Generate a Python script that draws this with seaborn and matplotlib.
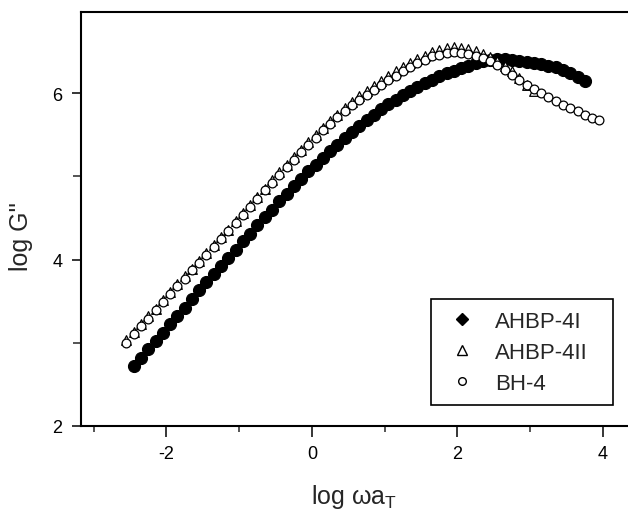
import matplotlib
matplotlib.use("Agg")
import matplotlib.pyplot as plt
import seaborn as sns
import pandas as pd
from matplotlib.ticker import FixedLocator
from matplotlib.lines import Line2D

# ---------------- data ----------------
x_ahbp4i = [-2.45, -2.35, -2.25, -2.15, -2.05, -1.95, -1.85, -1.75, -1.65, -1.55,
            -1.45, -1.35, -1.25, -1.15, -1.05, -0.95, -0.85, -0.75, -0.65, -0.55,
            -0.45, -0.35, -0.25, -0.15, -0.05, 0.05, 0.15, 0.25, 0.35, 0.45,
            0.55, 0.65, 0.75, 0.85, 0.95, 1.05, 1.15, 1.25, 1.35, 1.45,
            1.55, 1.65, 1.75, 1.85, 1.95, 2.05, 2.15, 2.25, 2.35, 2.45,
            2.55, 2.65, 2.75, 2.85, 2.95, 3.05, 3.15, 3.25, 3.35, 3.45,
            3.55, 3.65, 3.75]
y_ahbp4i = [2.72, 2.82, 2.92, 3.02, 3.12, 3.22, 3.32, 3.42, 3.53, 3.63,
            3.73, 3.83, 3.92, 4.02, 4.12, 4.22, 4.31, 4.41, 4.51, 4.60,
            4.70, 4.79, 4.88, 4.97, 5.06, 5.14, 5.22, 5.30, 5.38, 5.46,
            5.53, 5.60, 5.67, 5.74, 5.81, 5.87, 5.92, 5.97, 6.02, 6.07,
            6.12, 6.16, 6.20, 6.24, 6.27, 6.30, 6.33, 6.36, 6.38, 6.40,
            6.41, 6.41, 6.40, 6.39, 6.37, 6.36, 6.35, 6.33, 6.31, 6.28,
            6.24, 6.19, 6.15]

x_ahbp4ii = [-2.55, -2.45, -2.35, -2.25, -2.15, -2.05, -1.95, -1.85, -1.75, -1.65,
             -1.55, -1.45, -1.35, -1.25, -1.15, -1.05, -0.95, -0.85, -0.75, -0.65,
             -0.55, -0.45, -0.35, -0.25, -0.15, -0.05, 0.05, 0.15, 0.25, 0.35,
             0.45, 0.55, 0.65, 0.75, 0.85, 0.95, 1.05, 1.15, 1.25, 1.35,
             1.45, 1.55, 1.65, 1.75, 1.85, 1.95, 2.05, 2.15, 2.25, 2.35,
             2.45, 2.55, 2.65, 2.75, 2.85, 2.95, 3.05]
y_ahbp4ii = [3.03, 3.13, 3.22, 3.32, 3.41, 3.51, 3.61, 3.70, 3.80, 3.89,
             3.98, 4.08, 4.17, 4.27, 4.36, 4.46, 4.56, 4.66, 4.75, 4.85,
             4.95, 5.05, 5.14, 5.23, 5.32, 5.41, 5.50, 5.58, 5.66, 5.74,
             5.82, 5.89, 5.96, 6.03, 6.09, 6.15, 6.21, 6.26, 6.31, 6.36,
             6.41, 6.45, 6.49, 6.52, 6.54, 6.55, 6.54, 6.53, 6.50, 6.47,
             6.43, 6.38, 6.33, 6.26, 6.18, 6.10, 6.02]

x_bh4 = [-2.55, -2.45, -2.35, -2.25, -2.15, -2.05, -1.95, -1.85, -1.75, -1.65,
         -1.55, -1.45, -1.35, -1.25, -1.15, -1.05, -0.95, -0.85, -0.75, -0.65,
         -0.55, -0.45, -0.35, -0.25, -0.15, -0.05, 0.05, 0.15, 0.25, 0.35,
         0.45, 0.55, 0.65, 0.75, 0.85, 0.95, 1.05, 1.15, 1.25, 1.35,
         1.45, 1.55, 1.65, 1.75, 1.85, 1.95, 2.05, 2.15, 2.25, 2.35,
         2.45, 2.55, 2.65, 2.75, 2.85, 2.95, 3.05, 3.15, 3.25, 3.35,
         3.45, 3.55, 3.65, 3.75, 3.85, 3.95]
y_bh4 = [3.00, 3.10, 3.20, 3.29, 3.39, 3.49, 3.58, 3.68, 3.77, 3.87,
         3.96, 4.06, 4.15, 4.25, 4.34, 4.44, 4.54, 4.63, 4.73, 4.83,
         4.92, 5.02, 5.11, 5.20, 5.29, 5.38, 5.46, 5.55, 5.63, 5.71,
         5.78, 5.85, 5.92, 5.98, 6.04, 6.10, 6.16, 6.21, 6.26, 6.31,
         6.36, 6.40, 6.44, 6.46, 6.48, 6.49, 6.48, 6.47, 6.45, 6.42,
         6.39, 6.34, 6.28, 6.22, 6.16, 6.10, 6.05, 6.00, 5.95, 5.90,
         5.86, 5.82, 5.78, 5.74, 5.70, 5.67]

series_names = ["AHBP-4I", "AHBP-4II", "BH-4"]
x_ticks_major = [-2, 0, 2, 4]
x_ticks_minor = [-3, -1, 1, 3]
y_ticks_major = [2, 4, 6]
y_ticks_minor = [3, 5]

# ---------------- style ----------------
sns.set_style("ticks")
plt.rcParams["font.family"] = ["Liberation Sans", "DejaVu Sans"]
plt.rcParams["mathtext.default"] = "regular"
plt.rcParams["axes.unicode_minus"] = False

fig = plt.figure(figsize=(6.28, 5.10), dpi=100)
ax = fig.add_axes([81 / 628, 83 / 510, 547 / 628, 414 / 510])

df_i = pd.DataFrame({"x": x_ahbp4i, "y": y_ahbp4i})
df_ii = pd.DataFrame({"x": x_ahbp4ii, "y": y_ahbp4ii})
df_bh = pd.DataFrame({"x": x_bh4, "y": y_bh4})

sns.scatterplot(data=df_i, x="x", y="y", ax=ax, marker="o", s=75,
                color="black", edgecolor="black", linewidth=0.8, zorder=3)
sns.scatterplot(data=df_ii, x="x", y="y", ax=ax, marker="^", s=48,
                facecolor="white", edgecolor="black", linewidth=0.9, zorder=4)
sns.scatterplot(data=df_bh, x="x", y="y", ax=ax, marker="o", s=40,
                facecolor="white", edgecolor="black", linewidth=0.9, zorder=5)

ax.set_xlim(-3.175, 4.344)
ax.set_ylim(2, 6.973)

ax.xaxis.set_major_locator(FixedLocator(x_ticks_major))
ax.xaxis.set_minor_locator(FixedLocator(x_ticks_minor))
ax.yaxis.set_major_locator(FixedLocator(y_ticks_major))
ax.yaxis.set_minor_locator(FixedLocator(y_ticks_minor))
ax.set_xticklabels([str(v) for v in x_ticks_major])
ax.set_yticklabels([str(v) for v in y_ticks_major])

ax.tick_params(axis="x", which="major", direction="out", length=8, width=1.1,
               pad=6, labelsize=13, colors="black")
ax.tick_params(axis="x", which="minor", direction="out", length=4, width=1.1)
ax.tick_params(axis="y", which="major", direction="out", length=6.5, width=1.1,
               pad=7, labelsize=13, colors="black")
ax.tick_params(axis="y", which="minor", direction="out", length=6, width=1.1)

for side in ["left", "bottom", "top"]:
    ax.spines[side].set_linewidth(1.5)
    ax.spines[side].set_color("black")
ax.spines["right"].set_visible(False)

ax.set_xlabel("log ωa$_T$", fontsize=18)
ax.set_ylabel("log G''", fontsize=18)
ax.xaxis.set_label_coords(0.5, -0.135)
ax.xaxis.label.set_va("top")
ax.yaxis.set_label_coords(-0.088, 0.459)

handles = [
    Line2D([], [], linestyle="none", marker="D", markersize=6,
           markerfacecolor="black", markeredgecolor="black"),
    Line2D([], [], linestyle="none", marker="^", markersize=7,
           markerfacecolor="white", markeredgecolor="black", markeredgewidth=1.0),
    Line2D([], [], linestyle="none", marker="o", markersize=5.5,
           markerfacecolor="white", markeredgecolor="black", markeredgewidth=1.0),
]
leg = ax.legend(handles, series_names, loc="upper left",
                bbox_to_anchor=(0.640, 0.0507, 0.333, 0.256), mode="expand",
                borderaxespad=0, fontsize=16, frameon=True, fancybox=False,
                edgecolor="black", framealpha=1, borderpad=0.52,
                labelspacing=0.45, handlelength=1.75, handletextpad=0.61)
leg.get_frame().set_linewidth(1.2)

fig.savefig("out.png", dpi=100)
